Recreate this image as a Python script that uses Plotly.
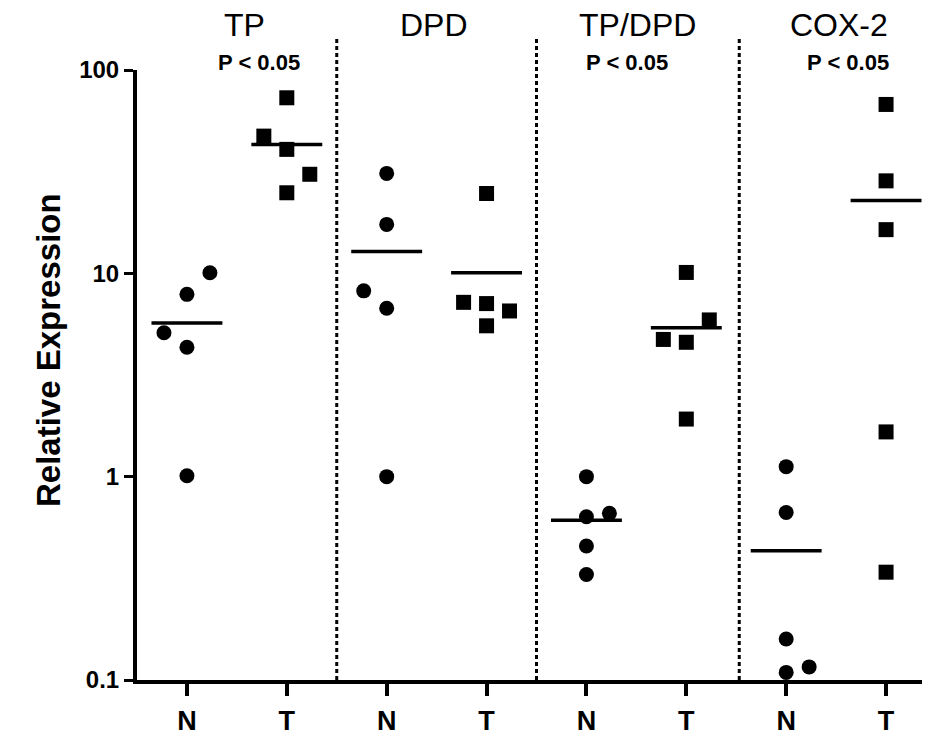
import plotly.graph_objects as go

# ---- data ----
groups = ["TP", "DPD", "TP/DPD", "COX-2"]
tick_labels = ["N", "T", "N", "T", "N", "T", "N", "T"]
p_labels = ["P < 0.05", "", "P < 0.05", "P < 0.05"]

tp_n = [10.07, 7.88, 5.1, 4.33, 1.01]
tp_t = [73.0, 47.3, 40.7, 30.7, 24.9]
dpd_n = [31.0, 17.4, 8.2, 6.73, 1.0]
dpd_t = [24.7, 7.2, 7.1, 6.53, 5.52]
ratio_n = [1.0, 0.66, 0.635, 0.456, 0.33]
ratio_t = [10.1, 5.9, 4.73, 4.58, 1.92]
cox_n = [1.12, 0.666, 0.159, 0.116, 0.109]
cox_t = [67.7, 28.5, 16.4, 1.66, 0.339]

# column dodge index of each point (-1 left, 0 centre, +1 right)
tp_n_dodge = [1, 0, -1, 0, 0]
tp_t_dodge = [0, -1, 0, 1, 0]
dpd_n_dodge = [0, 0, -1, 0, 0]
dpd_t_dodge = [0, -1, 0, 1, 0]
ratio_n_dodge = [0, 1, 0, 0, 0]
ratio_t_dodge = [0, 1, -1, 0, 0]
cox_n_dodge = [0, 0, 0, 1, 0]
cox_t_dodge = [0, 0, 0, 0, 0]

# mean lines as read
means = [5.7, 43.0, 12.8, 10.07, 0.61, 5.4, 0.432, 22.8]

series = [tp_n, tp_t, dpd_n, dpd_t, ratio_n, ratio_t, cox_n, cox_t]
dodges = [tp_n_dodge, tp_t_dodge, dpd_n_dodge, dpd_t_dodge,
          ratio_n_dodge, ratio_t_dodge, cox_n_dodge, cox_t_dodge]

# ---- styling (page pixel targets; page body has an 8px margin) ----
OFF = 8
PAGE_W, PAGE_H = 930, 737
PL, PT, PR, PB = 137, 70, 930, 680
W, H = PAGE_W - OFF, PAGE_H - OFF
ph = PB - PT
pw = PR - PL
JIT = 0.23
HALF = 0.355
FONT = "Arial, Liberation Sans, Helvetica, sans-serif"

fig = go.Figure()
for i, (vals, dg) in enumerate(zip(series, dodges)):
    pos = i + 1
    sym = "circle" if i % 2 == 0 else "square"
    fig.add_trace(go.Scatter(
        x=[pos + JIT * d for d in dg], y=vals, mode="markers",
        marker=dict(symbol=sym, size=15, color="black", line=dict(width=0)),
        cliponaxis=False, showlegend=False, hoverinfo="y"))
    fig.add_trace(go.Scatter(
        x=[pos - HALF, pos + HALF], y=[means[i], means[i]], mode="lines",
        line=dict(color="black", width=3.5), showlegend=False, hoverinfo="skip"))

# dotted dividers
for xd in [2.5, 4.5, 6.53]:
    fig.add_shape(type="line", xref="x", yref="paper", x0=xd, x1=xd,
                  y0=0, y1=(PB - 38) / ph,
                  line=dict(color="black", width=3, dash="4px,3px"))

title_x = [1.58, 3.47, 5.51, 7.53]
p_x = [1.72, 3.47, 5.41, 7.62]
for g, tx, px, pl in zip(groups, title_x, p_x, p_labels):
    fig.add_annotation(x=tx, y=(PB - 25) / ph, xref="x", yref="paper",
                       text=g, showarrow=False, xanchor="center", yanchor="middle",
                       font=dict(family=FONT, size=32, color="black"))
    if pl:
        fig.add_annotation(x=px, y=(PB - 63) / ph, xref="x", yref="paper",
                           text="<b>" + pl + "</b>", showarrow=False,
                           xanchor="center", yanchor="middle",
                           font=dict(family=FONT, size=22, color="black"))

fig.add_annotation(x=(48 - PL) / pw, y=(PB - 350) / ph,
                   xref="paper", yref="paper", text="<b>Relative Expression</b>",
                   textangle=-90, showarrow=False, xanchor="center", yanchor="middle",
                   font=dict(family=FONT, size=33, color="black"))

fig.update_xaxes(range=[0.5, 8.44], tickmode="array", tickvals=list(range(1, 9)),
                 ticktext=["<b>%s</b>" % t for t in tick_labels],
                 showline=True, linecolor="black", linewidth=4,
                 ticks="outside", ticklen=12, tickwidth=4, tickcolor="black",
                 showgrid=False, zeroline=False,
                 tickfont=dict(family=FONT, size=27, color="black"),
                 ticklabelstandoff=2)
fig.update_yaxes(type="log", range=[-1, 2], tickmode="array",
                 tickvals=[0.1, 1, 10, 100],
                 ticktext=["<b>0.1</b>", "<b>1</b>", "<b>10</b>", "<b>100</b>"],
                 showline=True, linecolor="black", linewidth=4,
                 ticks="outside", ticklen=9, tickwidth=3, tickcolor="black",
                 showgrid=False, zeroline=False,
                 tickfont=dict(family=FONT, size=24, color="black"))

fig.update_layout(width=W, height=H,
                  margin=dict(l=PL - OFF, r=PAGE_W - PR, t=PT - OFF, b=PAGE_H - PB),
                  plot_bgcolor="white", paper_bgcolor="white")

fig.write_html("out.html")
